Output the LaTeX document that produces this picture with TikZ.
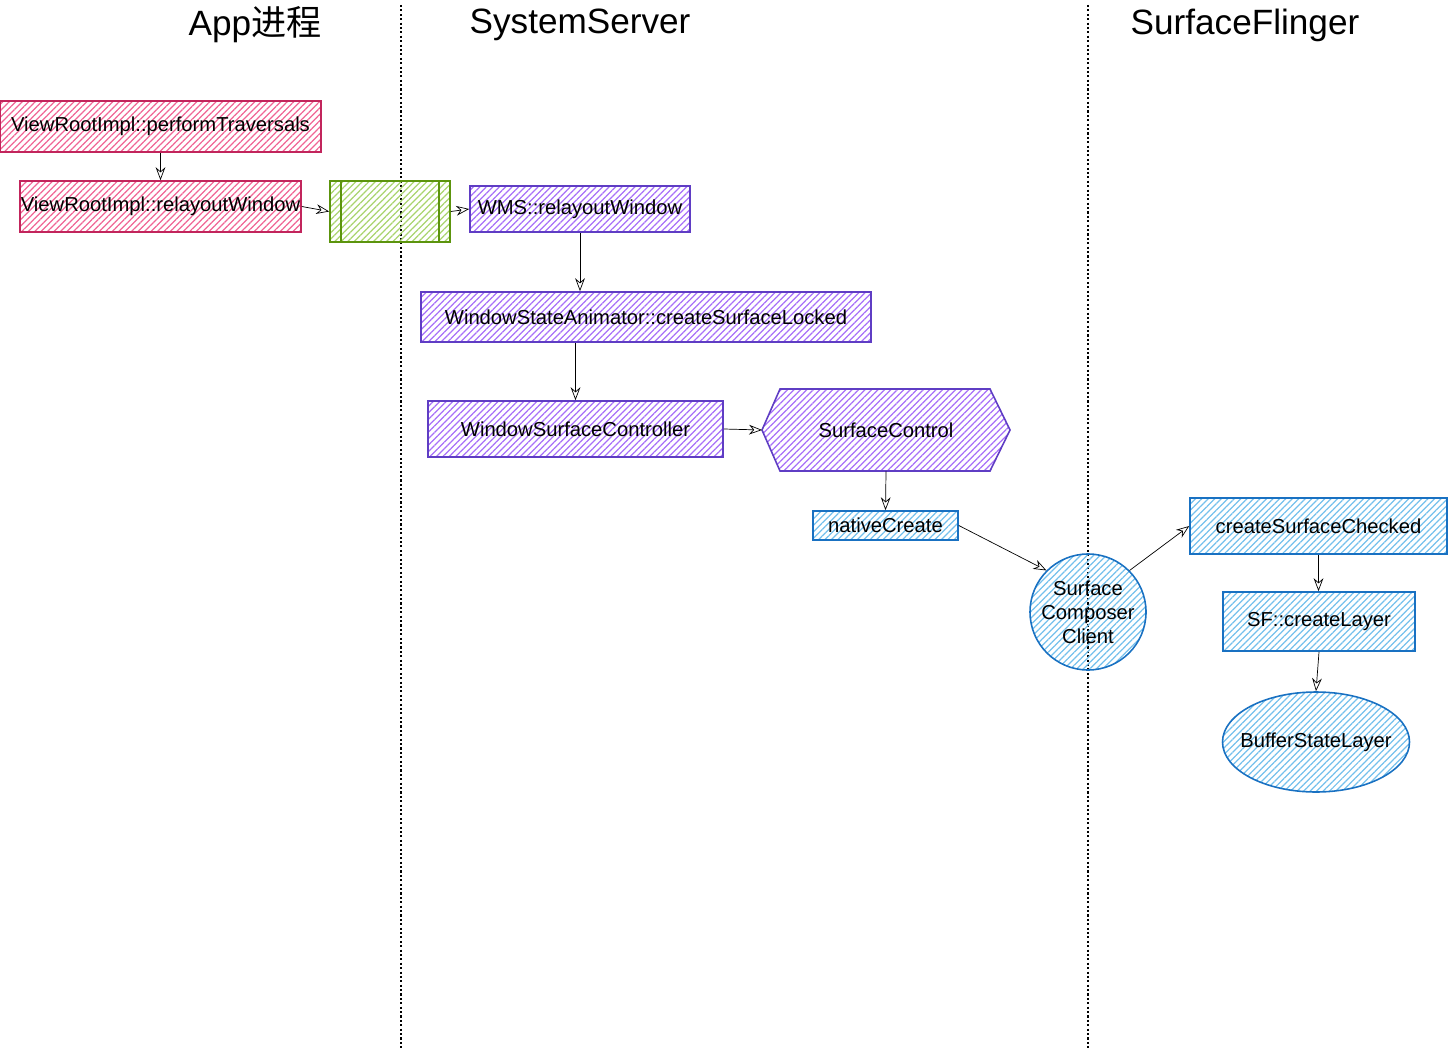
\documentclass[tikz,border=0pt]{standalone}
\usepackage{fontspec}
\setmainfont{Liberation Sans}
\newfontfamily\cjkfont{Noto Sans CJK SC}
\usetikzlibrary{arrows.meta,patterns.meta,shapes.geometric}
\definecolor{pinkline}{HTML}{C2255C}
\definecolor{pinkhatch}{HTML}{F06595}
\definecolor{greenline}{HTML}{5C940D}
\definecolor{greenhatch}{HTML}{A9D46E}
\definecolor{violetline}{HTML}{5F3DC4}
\definecolor{violethatch}{HTML}{A770F8}
\definecolor{blueline}{HTML}{1971C2}
\definecolor{bluehatch}{HTML}{74C0EC}

\begin{document}
\begin{tikzpicture}[font=\fontsize{11.5}{13.6}\selectfont, >={Stealth[length=2.6mm,open]},
	hatch/.style={pattern={Lines[angle=45,distance=2.6pt,line width=0.7pt]}, line width=0.9pt, inner sep=0pt, align=center},
	pinkbox/.style={hatch, draw=pinkline, pattern color=pinkhatch},
	greenbox/.style={hatch, draw=greenline, pattern color=greenhatch},
	violetbox/.style={hatch, draw=violetline, pattern color=violethatch},
	bluebox/.style={hatch, draw=blueline, pattern color=bluehatch},
	sepline/.style={line width=1.2pt, dash pattern=on 1.2pt off 1.3pt},
	title/.style={font=\fontsize{20}{23}\selectfont}]
		\useasboundingbox (0,0) rectangle (28.96,-20.96);
		\draw[sepline] (8.02,-0.1) -- (8.02,-20.96);
		\draw[sepline] (21.76,-0.1) -- (21.76,-20.96);
		\node[title] (tapp) at (5.1,-0.5) {App{\cjkfont 进程}};
		\node[title] (tss) at (11.6,-0.5) {SystemServer};
		\node[title] (tsf) at (24.9,-0.5) {SurfaceFlinger};
		\node[pinkbox, minimum width=6.42cm, minimum height=1.02cm] (perf) at (3.21,-2.53) {ViewRootImpl::performTraversals};
		\node[pinkbox, minimum width=5.62cm, minimum height=1.02cm] (relayout) at (3.21,-4.13) {ViewRootImpl::relayoutWindow};
		\node[greenbox, minimum width=2.4cm, minimum height=1.22cm] (bind) at (7.8,-4.23) {};
		\draw[greenline, line width=0.9pt] ([xshift=0.24cm]bind.north west) -- ([xshift=0.24cm]bind.south west) ([xshift=-0.24cm]bind.north east) -- ([xshift=-0.24cm]bind.south east);
		\node[violetbox, minimum width=4.4cm, minimum height=0.92cm] (wms) at (11.6,-4.18) {WMS::relayoutWindow};
		\node[violetbox, minimum width=9cm, minimum height=1cm] (wsa) at (12.92,-6.34) {WindowStateAnimator::createSurfaceLocked};
		\node[violetbox, minimum width=5.9cm, minimum height=1.12cm] (wsc) at (11.51,-8.58) {WindowSurfaceController};
		\draw[violetline, line width=0.9pt, pattern={Lines[angle=45,distance=2.6pt,line width=0.7pt]}, pattern color=violethatch] (15.24,-8.6) coordinate (scL) -- (15.6,-7.78) -- (19.8,-7.78) -- (20.2,-8.6) -- (19.8,-9.42) -- (15.6,-9.42) -- cycle;
		\node[minimum width=4.96cm, minimum height=1.64cm, inner sep=0pt] (sc) at (17.72,-8.6) {SurfaceControl};
		\node[bluebox, minimum width=2.9cm, minimum height=0.58cm] (nc) at (17.71,-10.51) {nativeCreate};
		\node[bluebox, circle, inner sep=-0.15cm, minimum size=2.32cm] (scc) at (21.76,-12.24) {Surface\\Composer\\Client};
		\node[bluebox, minimum width=5.14cm, minimum height=1.12cm] (csc) at (26.37,-10.52) {createSurfaceChecked};
		\node[bluebox, minimum width=3.84cm, minimum height=1.18cm] (sfl) at (26.38,-12.43) {SF::createLayer};
		\node[bluebox, ellipse, inner xsep=-0.3cm, minimum width=3.74cm, minimum height=2cm] (bsl) at (26.32,-14.84) {BufferStateLayer};
		\draw[->] (perf) -- (relayout);
		\draw[->] (relayout.east) -- (bind.west);
		\draw[->] (bind.east) -- (wms.west);
		\draw[->] (wms.south) -- (wms.south |- wsa.north);
		\draw[->] (wsc.north |- wsa.south) -- (wsc.north);
		\draw[->] (wsc.east) -- (scL);
		\draw[->] (sc.south) -- (nc.north);
		\draw[->] (nc.east) -- (scc.135);
		\draw[->] (scc.45) -- (csc.west);
		\draw[->] (csc.south) -- (csc.south |- sfl.north);
		\draw[->] (sfl.south) -- (bsl.north);
	\end{tikzpicture}
\end{document}
